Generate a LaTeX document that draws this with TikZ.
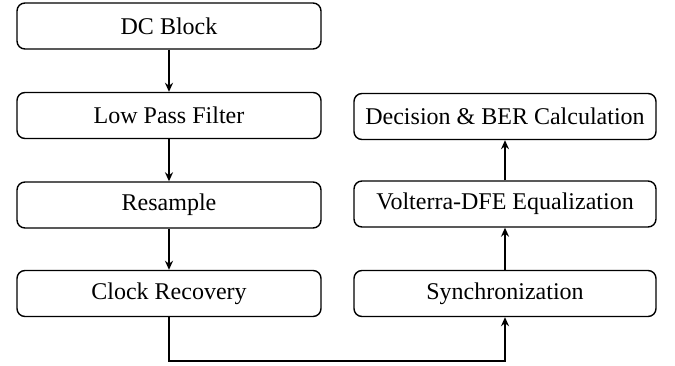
\documentclass[tikz,border=0pt]{standalone}
\usepackage{fontspec}
\setmainfont{Liberation Serif}
\usetikzlibrary{positioning, arrows.meta}
\tikzset{
	blk/.style={draw, rounded corners=8pt, line width=1.4pt, minimum width=304pt, minimum height=46pt, font=\fontsize{24}{28}\selectfont},
	flow/.style={-{Stealth[length=9pt, width=8pt]}, line width=1.6pt}
}
\begin{document}
\begin{tikzpicture}[x=1pt,y=-1pt]
			\useasboundingbox (0,0) rectangle (675,365);
			% left column
			\node[blk] (dc) at (169,26) {DC Block};
			\node[blk] (lpf) at (169,115.5) {Low Pass Filter};
			\node[blk] (res) at (169,205) {Resample};
			\node[blk] (clk) at (169,293.5) {Clock Recovery};
			% right column
			\node[blk, minimum width=302pt] (sync) at (505,293.5) {Synchronization};
			\node[blk, minimum width=302pt] (vol) at (505,204) {Volterra-DFE Equalization};
			\node[blk, minimum width=302pt] (ber) at (505,116.5) {Decision \& BER Calculation};
			\coordinate (turn) at (169,361);
			\draw[flow] (dc) -- (lpf);
			\draw[flow] (lpf) -- (res);
			\draw[flow] (res) -- (clk);
			\draw[flow] (clk) -- (turn) -| (sync);
			\draw[flow] (sync) -- (vol);
			\draw[flow] (vol) -- (ber);
		\end{tikzpicture}
\end{document}
